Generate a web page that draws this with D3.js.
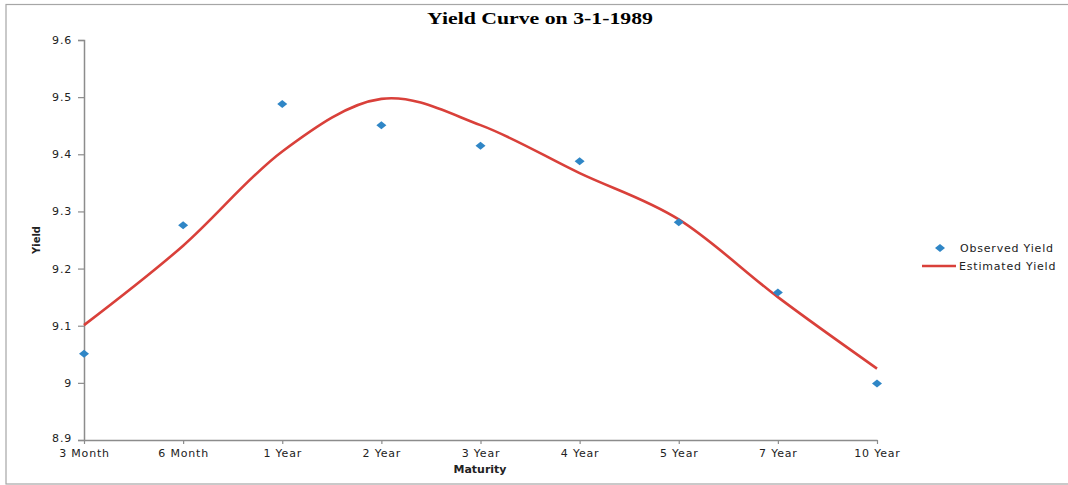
<!DOCTYPE html>
<html><head><meta charset="utf-8">
<script src="https://cdn.jsdelivr.net/npm/d3@7"></script>
<style>body{margin:0;background:#fff}svg{display:block}</style>
</head><body>
<script>
const categories = ["3 Month","6 Month","1 Year","2 Year","3 Year","4 Year","5 Year","7 Year","10 Year"];
const observed = [9.051, 9.276, 9.488, 9.451, 9.415, 9.388, 9.281, 9.158, 8.999];
const estimated = [9.101, 9.240, 9.405, 9.497, 9.451, 9.367, 9.286, 9.150, 9.025];
const yTicks = [8.9, 9.0, 9.1, 9.2, 9.3, 9.4, 9.5, 9.6];
const title = "Yield Curve on 3-1-1989";

const W = 1068, H = 485;
const svg = d3.select("body").append("svg").attr("width", W).attr("height", H);
svg.append("rect").attr("x", 6).attr("y", 4.5).attr("width", W + 10).attr("height", 479.5)
  .attr("fill", "#fff").attr("stroke", "#a6a6a6").attr("stroke-width", 1.2);

const x = d3.scalePoint().domain(categories).range([84, 877]);
const y = d3.scaleLinear().domain([8.9, 9.6]).range([440, 40]);
const font = "DejaVu Sans, Verdana, sans-serif";
const axisColor = "#8c8c8c";
const ls = "0.8px";

// y axis
const ya = svg.append("g").attr("transform", "translate(84,0)")
  .call(d3.axisLeft(y).tickValues(yTicks).tickSize(6).tickPadding(6).tickFormat(d => d3.format("")(+d.toFixed(1))));
ya.select(".domain").attr("stroke", axisColor).attr("stroke-width", 1.5);
ya.selectAll(".tick line").attr("stroke", axisColor).attr("stroke-width", 1.2);
ya.selectAll("text").attr("font-family", font).attr("font-size", 11).attr("fill", "#222").style("letter-spacing", ls);
ya.selectAll(".tick").filter(d => d === 8.9).select("text").attr("dy", "0.1em");

// x axis
const xa = svg.append("g").attr("transform", "translate(0,440)")
  .call(d3.axisBottom(x).tickSize(4).tickSizeOuter(0).tickPadding(5));
xa.select(".domain").attr("stroke", axisColor).attr("stroke-width", 1.5);
xa.selectAll(".tick line").attr("stroke", axisColor).attr("stroke-width", 1.2);
xa.selectAll("text").attr("font-family", font).attr("font-size", 11).attr("fill", "#222").style("letter-spacing", ls);

// estimated line
const line = d3.line().x((d, i) => x(categories[i])).y(d => y(d)).curve(d3.curveCatmullRom.alpha(0));
svg.append("path").datum(estimated).attr("d", line).attr("fill", "none")
  .attr("stroke", "#d9403a").attr("stroke-width", 2.6);

// observed markers
const diamond = "M0,-4L5,0L0,4L-5,0Z";
svg.append("g").selectAll("path").data(observed).join("path")
  .attr("d", diamond).attr("transform", (d, i) => `translate(${x(categories[i])},${y(d)})`)
  .attr("fill", "#2f86c6");

// title
svg.append("text").attr("x", 540).attr("y", 24).attr("text-anchor", "middle")
  .attr("font-family", "Liberation Serif, Times New Roman, serif").attr("font-weight", "bold")
  .attr("font-size", 17).attr("textLength", 226).attr("lengthAdjust", "spacingAndGlyphs").text(title);

// axis titles
svg.append("text").attr("transform", "translate(40,240) rotate(-90)").attr("text-anchor", "middle")
  .attr("font-family", font).attr("font-weight", "bold").attr("font-size", 10).attr("fill", "#222").text("Yield");
svg.append("text").attr("x", 480).attr("y", 473).attr("text-anchor", "middle")
  .attr("font-family", font).attr("font-weight", "bold").attr("font-size", 11).attr("fill", "#222").text("Maturity");

// legend
const lg = svg.append("g");
lg.append("path").attr("d", diamond).attr("transform", "translate(940,248)").attr("fill", "#2f86c6");
lg.append("text").attr("x", 960).attr("y", 252).attr("font-family", font).attr("font-size", 11).attr("fill", "#222").style("letter-spacing", ls).text("Observed Yield");
lg.append("line").attr("x1", 922).attr("x2", 956).attr("y1", 266).attr("y2", 266).attr("stroke", "#d9403a").attr("stroke-width", 2.6);
lg.append("text").attr("x", 959).attr("y", 270).attr("font-family", font).attr("font-size", 11).attr("fill", "#222").style("letter-spacing", ls).text("Estimated Yield");
</script>
</body></html>
